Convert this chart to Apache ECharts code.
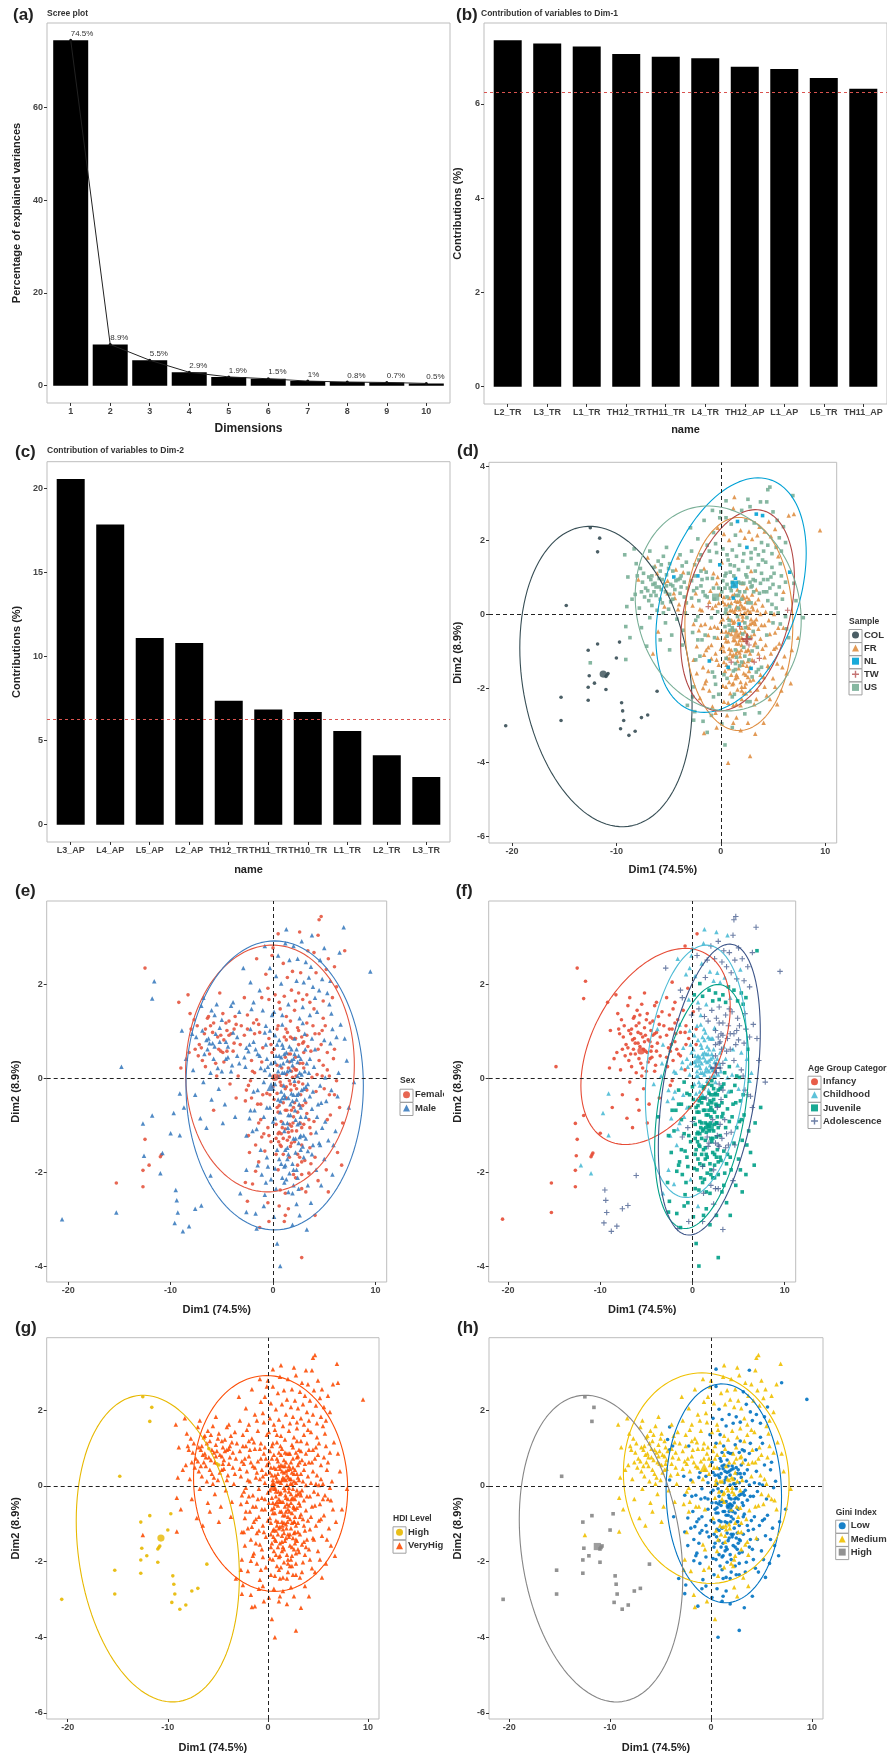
<!DOCTYPE html>
<html>
<head>
<meta charset="utf-8">
<title>PCA figure</title>
<script src="https://cdn.jsdelivr.net/npm/echarts@6.0.0/dist/echarts.min.js"></script>
<style>
  html, body { margin: 0; padding: 0; background: #fff; }
  #page { position: relative; width: 887px; height: 1758px; overflow: hidden; background: #fff; }
  .panel { position: absolute; }
</style>
</head>
<body>
<div id="page"></div>
<script>
var FONT = '"Liberation Sans", Arial, Helvetica, sans-serif';

// (a) scree plot
var screeDims = [1, 2, 3, 4, 5, 6, 7, 8, 9, 10];
var screeVals = [74.5, 8.9, 5.5, 2.9, 1.9, 1.5, 1.0, 0.8, 0.7, 0.5];
var screeLabels = ['74.5%', '8.9%', '5.5%', '2.9%', '1.9%', '1.5%', '1%', '0.8%', '0.7%', '0.5%'];

// (b) and (c) contributions
var dim1Vars = ['L2_TR', 'L3_TR', 'L1_TR', 'TH12_TR', 'TH11_TR', 'L4_TR', 'TH12_AP', 'L1_AP', 'L5_TR', 'TH11_AP'];
var dim1Contrib = [7.35, 7.28, 7.22, 7.06, 7.00, 6.97, 6.79, 6.74, 6.55, 6.32];
var dim2Vars = ['L3_AP', 'L4_AP', 'L5_AP', 'L2_AP', 'TH12_TR', 'TH11_TR', 'TH10_TR', 'L1_TR', 'L2_TR', 'L3_TR'];
var dim2Contrib = [20.54, 17.84, 11.09, 10.80, 7.37, 6.85, 6.70, 5.57, 4.13, 2.84];
var refContrib = 6.25;

// individuals on Dim1 / Dim2 (10 per line)
var indPts = [
  // left outliers
  [-12.5,2.35],[-11.6,2.07],[-11.8,1.70],[-14.8,0.25],[-11.8,-0.79],[-12.7,-0.96],[-9.7,-0.74],[-10.0,-1.17],[-12.5,-1.30],[-9.1,-1.21],
  [-10.9,-1.63],[-10.8,-1.59],[-11.0,-1.67],[-12.6,-1.65],[-12.1,-1.85],[-12.7,-1.96],[-11.0,-2.02],[-12.7,-2.31],[-15.3,-2.23],[-15.3,-2.86],
  [-20.6,-3.00],[-9.5,-2.38],[-9.4,-2.60],[-9.3,-2.86],[-9.6,-3.08],[-8.8,-3.26],[-8.2,-3.15],[-7.6,-2.78],[-7.0,-2.71],[-6.1,-2.07],
  // upper-left band
  [-9.2,1.62],[-8.9,1.02],[-9.0,0.22],[-9.1,-0.32],[-8.7,-0.62],[-8.3,1.78],[-8.1,1.38],[-7.9,0.95],[-8.2,0.55],[-7.8,0.18],
  [-7.6,-0.35],[-7.4,1.12],[-7.2,0.72],[-7.0,1.55],[-6.9,0.38],[-6.8,-0.08],[-7.1,-0.85],[-6.6,1.05],[-6.5,0.82],[-6.3,1.32],
  [-6.2,0.52],[-6.1,0.12],[-6.0,-0.45],[-5.9,0.98],[-5.8,1.18],[-5.7,0.68],[-5.6,0.32],[-5.5,1.58],[-5.4,0.88],[-5.3,-0.22],
  [-5.2,1.08],[-5.1,0.58],[-5.0,0.15],[-4.9,1.38],[-4.8,0.82],[-4.7,-0.55],[-4.6,0.42],[-4.5,1.02],[-4.4,0.68],[-4.3,1.22],
  [-4.2,-0.12],[-4.1,0.95],[-4.0,0.28],[-3.9,1.62],[-3.8,0.75],[-3.7,-0.82],[-3.6,1.15],[-3.5,0.48],[-3.4,0.05],[-3.3,1.42],
  [-6.7,0.95],[-5.9,0.75],[-5.1,0.92],[-4.6,1.18],[-6.4,0.62],[-7.5,0.88],[-5.5,0.05],[-4.4,0.45],[-3.8,1.05],[-6.0,1.45],
  [-8.5,0.42],[-7.7,1.25],[-6.8,1.72],[-5.2,1.82],[-4.1,1.55],[-3.6,-0.42],[-5.8,-0.68],[-6.5,-1.05],[-4.9,-0.95],[-3.2,0.72],
  // centre-left
  [-2.9,2.35],[-2.8,1.72],[-2.8,0.92],[-2.7,0.25],[-2.7,-0.48],[-2.6,-1.22],[-2.6,-1.95],[-2.5,-2.62],[-2.5,1.35],[-2.4,0.58],
  [-2.4,-0.15],[-2.3,-0.85],[-2.3,-1.58],[-2.2,2.05],[-2.2,1.05],[-2.1,0.38],[-2.1,-0.42],[-2.0,-1.12],[-2.0,-2.25],[-1.9,1.62],
  [-1.9,0.78],[-1.8,0.12],[-1.8,-0.68],[-1.7,-1.42],[-1.7,-2.88],[-1.6,2.55],[-1.6,1.25],[-1.5,0.52],[-1.5,-0.25],[-1.4,-0.95],
  [-1.4,-1.78],[-1.3,1.88],[-1.3,0.98],[-1.2,0.22],[-1.2,-0.55],[-1.1,-1.25],[-1.1,-2.05],[-1.0,1.45],[-1.0,0.65],[-0.9,-0.08],
  [-0.9,-0.82],[-0.8,-1.55],[-0.8,-2.48],[-0.7,2.22],[-0.7,1.12],[-0.6,0.42],[-0.6,-0.32],[-0.5,-1.05],[-0.5,-1.88],[-0.4,1.68],
  [-0.4,0.85],[-0.3,0.08],[-0.3,-0.62],[-0.2,-1.35],[-0.2,-2.15],[-0.1,2.62],[-0.1,1.35],[-0.1,0.55],[0.0,-0.18],[0.0,-0.92],
  [-2.6,0.65],[-2.2,-0.05],[-1.9,1.18],[-1.6,-1.08],[-1.3,0.48],[-1.0,-0.35],[-0.7,0.72],[-0.4,-1.22],[-0.2,0.32],[-2.4,-1.22],
  [-1.8,0.95],[-1.5,-1.85],[-1.1,1.72],[-0.8,0.18],[-0.5,-2.65],[-2.1,1.48],[-0.3,1.02],[-1.2,-0.88],[-2.7,-2.22],[-0.6,-1.68],
  // core
  [0.1,1.42],[0.1,0.62],[0.2,-0.12],[0.2,-0.85],[0.3,-1.62],[0.3,-2.35],[0.4,1.05],[0.4,0.28],[0.5,-0.45],[0.5,-1.18],
  [0.5,-1.95],[0.6,0.82],[0.6,0.05],[0.7,-0.72],[0.7,-1.42],[0.7,1.48],[0.8,0.45],[0.8,-0.28],[0.9,-1.05],[0.9,-2.12],
  [0.9,1.15],[1.0,0.32],[1.0,-0.52],[1.0,-1.28],[1.1,-1.88],[1.1,0.88],[1.1,0.12],[1.2,-0.68],[1.2,-1.52],[1.2,-2.45],
  [1.3,1.32],[1.3,0.55],[1.3,-0.18],[1.4,-0.95],[1.4,-1.72],[1.4,0.98],[1.5,0.22],[1.5,-0.42],[1.5,-1.15],[1.6,-2.02],
  [1.6,0.68],[1.6,-0.05],[1.7,-0.78],[1.7,-1.45],[1.7,1.22],[1.8,0.38],[1.8,-0.32],[1.8,-1.02],[1.9,-1.82],[1.9,0.85],
  [1.9,0.02],[2.0,-0.62],[2.0,-1.28],[2.0,-2.28],[2.1,1.45],[2.1,0.52],[2.1,-0.15],[2.2,-0.88],[2.2,-1.58],[2.2,0.18],
  [2.3,-0.45],[2.3,-1.12],[2.3,-1.95],[2.4,1.08],[2.4,0.35],[2.4,-0.72],[2.5,-1.38],[2.5,0.72],[2.5,-0.08],[2.6,-0.95],
  [2.6,-1.68],[2.6,1.28],[2.7,0.42],[2.7,-0.35],[2.7,-1.22],[2.8,-2.05],[2.8,0.88],[2.8,0.08],[2.9,-0.58],[2.9,-1.45],
  [2.9,1.52],[3.0,0.55],[3.0,-0.22],[3.0,-0.98],[3.1,-1.75],[3.1,0.95],[3.1,0.15],[3.2,-0.52],[3.2,-1.28],[3.2,-2.42],
  [3.3,1.18],[3.3,0.32],[3.3,-0.75],[3.4,-1.55],[3.4,0.68],[3.4,-0.12],[3.5,-0.88],[3.5,-2.02],[3.6,1.35],[3.6,0.42],
  [3.6,-0.38],[3.7,-1.18],[3.7,-1.82],[3.8,0.85],[3.8,0.02],[3.8,-0.65],[3.9,-1.42],[3.9,1.12],[4.0,0.25],[4.0,-0.92],
  [4.1,-1.68],[4.1,0.62],[4.2,-0.28],[4.2,-1.15],[4.3,1.42],[4.3,0.08],[4.4,-0.55],[4.4,-2.18],[4.5,0.95],[4.5,-1.38],
  [0.3,0.48],[0.6,-0.58],[0.9,0.12],[1.2,0.45],[1.5,-0.78],[1.8,0.15],[2.1,-0.52],[2.4,0.05],[2.7,-0.82],[3.0,0.22],
  [0.4,-0.32],[0.7,0.28],[1.0,-0.95],[1.3,-0.42],[1.6,0.35],[1.9,-0.48],[2.2,0.85],[2.5,-0.32],[2.8,-1.05],[3.1,-0.45],
  [0.2,0.92],[0.5,-0.72],[0.8,-1.45],[1.1,-0.35],[1.4,0.15],[1.7,-0.12],[2.0,0.42],[2.3,0.18],[2.6,0.12],[2.9,0.32],
  [0.6,-1.15],[0.9,-0.42],[1.2,-1.08],[1.5,-1.62],[1.8,-1.38],[2.1,-0.05],[2.4,-1.62],[2.7,-0.62],[3.0,-1.22],[3.3,-0.25],
  [0.4,0.72],[0.8,-0.15],[1.1,0.52],[1.4,-1.32],[1.7,0.88],[2.0,-0.35],[2.3,0.62],[2.6,-0.58],[2.9,0.75],[3.2,-0.18],
  [0.3,-1.28],[0.8,-1.82],[1.3,-2.15],[1.6,-1.25],[1.9,-2.45],[2.2,-2.12],[2.5,-2.35],[2.8,-1.78],[3.4,-2.28],[3.6,-1.48],
  // upper
  [-0.8,2.82],[-0.5,1.92],[-0.3,2.35],[0.0,2.78],[0.2,1.78],[0.3,2.18],[0.5,2.62],[0.6,1.62],[0.8,2.02],[1.0,2.45],
  [1.1,1.75],[1.2,2.88],[1.4,2.15],[1.5,1.58],[1.6,2.52],[1.8,1.88],[1.9,2.28],[2.0,2.82],[2.2,1.65],[2.3,2.08],
  [2.4,2.55],[2.5,1.82],[2.7,2.25],[2.8,2.92],[2.9,1.68],[3.0,2.05],[3.2,2.48],[3.3,1.78],[3.4,2.72],[3.5,2.15],
  [3.6,1.62],[3.7,2.38],[3.9,1.95],[4.0,2.68],[4.1,1.72],[4.2,2.25],[4.4,3.05],[4.5,1.88],[4.6,2.52],[4.7,3.45],
  [4.8,2.12],[4.9,1.65],[5.0,2.78],[5.2,2.32],[5.3,1.82],[5.4,2.55],[5.5,1.58],[5.6,2.08],[5.8,1.72],[6.0,2.38],
  [6.2,1.95],[6.5,2.68],[6.9,3.22],[7.0,2.72],[9.5,2.28],[4.5,3.38],[3.8,3.05],[2.6,3.12],[1.3,3.18],[0.5,3.08],
  // right
  [4.6,-0.15],[4.7,0.72],[4.8,-1.05],[4.9,0.28],[5.0,-1.72],[5.1,1.12],[5.2,-0.48],[5.3,0.55],[5.4,-1.32],[5.5,0.05],
  [5.6,-0.78],[5.7,1.38],[5.8,-2.05],[5.9,0.42],[6.0,-0.35],[6.1,-1.12],[6.2,0.88],[6.3,-1.58],[6.4,0.12],[6.5,-0.62],
  [4.7,-2.28],[5.0,-0.22],[5.3,-0.88],[5.6,0.75],[5.9,-1.42],[6.2,-0.05],[6.6,1.15],[6.8,-0.95],[7.2,0.38],[7.9,-0.08],
  [4.8,1.02],[5.1,0.02],[5.4,-2.42],[5.7,-0.25],[6.0,0.62],[6.3,-0.38],[6.7,-1.85],[7.0,0.85],[7.4,-0.62],[5.2,-1.95],
  // lower stragglers
  [-2.6,-2.85],[-1.6,-3.20],[-1.3,-3.18],[-0.9,-2.72],[-0.4,-3.05],[0.1,-2.95],[0.4,-3.52],[0.6,-2.72],[0.7,-4.00],[1.1,-3.05],
  [1.5,-2.78],[1.9,-3.12],[2.3,-2.68],[2.8,-3.82],[3.3,-3.22],[3.7,-2.65],[4.1,-2.92],[-3.2,-2.45],[1.2,-2.92],[2.6,-2.92],
  // band, second pass
  [-7.3,0.48],[-6.9,1.02],[-6.6,0.25],[-6.3,0.85],[-6.1,1.12],[-5.8,0.42],[-5.6,0.95],[-5.3,0.62],[-5.0,1.25],[-4.8,0.35],
  [-4.6,0.78],[-4.3,0.92],[-4.1,0.15],[-3.9,0.58],[-3.7,1.32],[-3.5,0.88],[-3.3,0.32],[-7.0,0.65],[-6.4,1.28],[-5.4,0.22],
  [-8.0,1.05],[-7.6,0.62],[-6.7,0.52],[-5.2,0.78],[-4.5,0.58],[-3.9,0.98],[-4.9,0.55],[-6.2,0.75],[-5.7,1.35],[-3.1,1.12],
  // centre-left, second pass
  [-2.8,0.45],[-2.5,1.05],[-2.3,0.72],[-2.0,0.15],[-1.7,0.62],[-1.4,1.15],[-1.1,0.35],[-0.8,0.98],[-0.5,0.25],[-0.2,0.72],
  [-2.6,-0.25],[-2.2,-0.68],[-1.9,-0.28],[-1.5,-0.55],[-1.2,-1.52],[-0.9,-1.18],[-0.6,-0.62],[-0.3,-0.35],[-1.7,-1.98],[-0.7,-2.22],
  // core, second pass
  [0.2,0.35],[0.4,-0.62],[0.6,0.48],[0.8,-0.92],[1.0,0.65],[1.2,-0.22],[1.4,0.38],[1.6,-0.98],[1.8,0.62],[2.0,-0.82],
  [2.2,0.45],[2.4,-0.98],[2.6,0.32],[2.8,-0.25],[3.0,0.78],[3.2,-0.82],[0.3,-0.98],[0.5,0.15],[0.7,-0.08],[0.9,0.72],
  [1.1,-1.12],[1.3,0.08],[1.5,0.52],[1.7,-0.55],[1.9,0.28],[2.1,-1.35],[2.3,-0.22],[2.5,0.48],[2.7,-1.52],[2.9,-0.12],
  [0.1,-0.45],[0.4,-1.52],[0.6,-1.72],[0.8,-1.18],[1.0,-1.62],[1.2,-1.85],[1.4,-1.48],[1.6,-1.68],[1.8,-0.68],[2.0,-1.95],
  [2.2,-1.28],[2.4,-1.85],[2.6,-1.25],[2.8,-1.42],[3.0,-1.68],[0.5,1.12],[0.9,1.35],[1.3,0.82],[1.7,0.52],[2.1,0.85],
  [2.5,1.02],[2.9,1.18],[3.3,0.92],[0.2,-1.92],[0.7,-2.38],[1.1,-2.22],[1.5,-2.42],[2.0,-2.05],[2.4,-2.12],[2.8,-2.35],
  [1.05,-0.15],[1.35,-0.68],[1.65,0.18],[1.95,-0.95],[2.25,0.05],[2.55,-0.55],[0.85,0.22],[1.15,-0.42],[1.45,-1.05],[1.75,-0.25],
  [2.05,0.22],[2.35,-0.35],[2.65,-0.95],[0.45,0.05],[0.75,-0.48],[1.25,1.05],[1.85,-1.12],[2.15,-0.68],[0.55,-1.35],[3.15,0.62],
  // right-middle, second pass
  [3.5,0.12],[3.7,0.58],[3.9,-0.28],[4.1,0.95],[4.3,-0.82],[4.5,0.38],[4.7,-0.52],[4.9,1.28],[5.1,-0.92],[5.3,0.18],
  [3.6,-1.05],[3.8,-1.62],[4.0,1.48],[4.2,-1.95],[4.4,0.62],[4.6,-1.42],[4.8,0.05],[5.0,0.82],[5.5,-0.35],[5.8,1.05]
];

// group of each individual, one letter per point, blocks of 10
var sampleCode = (
  'CCCCCCCCUU CCCCCCCCCC CCCCCCCCCC ' +
  'UUUUUUUFUU UUUFUUUUUF UUFUUUUUFU UFUUUUUNUF UUFUUUFUUU UUFUUUUFUU UUUUFUUFUU ' +
  'UUUFUFUUUF UFFUNUFUFU UFUFUUFUFF FUUTFNFUFU FUFUFUFFUU FUFFUUNFFF UUUFUFUFFU UFUFFUFFUU ' +
  'FUFFUFUFFU FUFFNUFUFF UFFTFUFFUF UFFUFNFFUF FUFFUFTFFU FFUFUFFUFF FUFUFTFFUF FUFFUFUFFN UFFUFUFFTF ' +
  'UFFUFFUFUF FTFUFFUUFF FUFFUFUFUF FUFNFFUFTF UFFUFFUFFU UFFUFFUFFU FUFFUFFUFF UUFUUFUFUF FFUFFFUFFU ' +
  'UUFUUFUUFU UFUUNUFUUF UNFUUFUUNF UFUNUFUUFU FUUFUUFUUU UFUFFUUUFU ' +
  'FUFUFUFUFU FUFUFFUFTU FUFUFUNFUU UFFUFUFUFF ' +
  'UFUUFUUFFU FFUFFUFUFF ' +
  'UUUUFUUUUU UUFUUUUUUF UUUUFUUUUU ' +
  'UUUFUUFUFU FUFUFFUFFU ' +
  'FFUFUFFFUF FFUFUFFUFU FFUFFFUFFF FFUFFFUFFF FFFFUUUFUF UFUFFUFFFU FFUFFFUFFN FUFUFUFFFU ' +
  'FUFUFUFUFU FFUFUFUUFU').replace(/ /g, '');
var sexCode = (
  'FMMMMMMMFM FMFMFFMFFM MMMMMMMMMM ' +
  'FMFMMFFMFM MFFMFMMFMF FMMFFMFMFM MFMFFMMFMF FFMMFMFMFM FMFFMMFMFM MFMFMFFMMF ' +
  'MFFMFMMFFM FMFMMFFMFM MFMFMFFMMF FMFMFFMMFM MFMFMMFFMF FMMFMFMFFM MFFMMFMFMF FMFMFMMFFM ' +
  'MFMMFMFFMF FMFMFFMMFM MMFFMFMFMF FMFMMFFMFM MFMFFMMFMF FFMMFMFMMF MFMFMFMFFM FMMFMFFMFM MFMFFMMFMF ' +
  'FMFMFMFFMM MFFMFMMFMF FMFMMFMFFM MFMFMFFMMF FMMFFMFMFM MFFMMFMFMF FMFMFMFMMF MFMFFMMFFM FMMFMFMFMF ' +
  'MFMFFMMFMF FMFMMFFMFM MFFMFMMFFM FMMFMFFMMF MFMFMFMMFF FMMFMFMFMF ' +
  'MFMFMFMFMF FMMFFMMFMF MFFMMFMFMM FMFMFMFMMF ' +
  'MMFMFMMFMF FMMFMMFMFM ' +
  'FMFMFMMFMF MFMFFMMFFM FFMMFMFMMF ' +
  'MFMFMFFMMF FMMFMFMFFM ' +
  'MFMFMFMFMF FMFMFMFMFM MFFMMFFMMF FMMFFMMFFM MFMFMFMFFM FMFMFMMFMF MFMFFMFMMF FMFMMFFMFM ' +
  'MFMFMFMFMF FMFMFMFMFM').replace(/ /g, '');
var ageCode = (
  'IIIIIICIIC IIIICICIII IAAAAAAAAA ' +
  'IIICIIIIII IIIIIIIIII IIIIIIIIII IIIIIIIIII CIIIIJIICI IIIIIIIICI IIIIIIIIIC ' +
  'AIIICJCJII ICJIIICJCI ICJCJCIIJC JAICJAJICJ CJJCICJAJC ICJJCCACJA IIICICIJCC IJAIJICJJJ ' +
  'ICCJJJICCJ JCCJJACCJJ CCJJACCJJA ACJJJCCAJJ CCJAACJJJC CJJAACJAJC JJACCJAACJ JACJAJACJA ACJAJACJAJ ' +
  'AAJJCJAJAC JAJACJAAJJ JAJAACJAAJ CJCCJCJCJA CCJJCJCJJA CJJCCJCCAC JJJJAJJAJA ICCJCJCJAJ JJJAJJAJJA ' +
  'IICCJCACJC JCACAJCAJC AJCAJCAJAC JAJACAAJAA AJACJAJAJA AAAJAACCCI ' +
  'JAJCJAJCJA JAJCAJAJCA JCJAJCAJAA AJJAJAJAJJ ' +
  'JAJJAJJCJA JJAJAJJCJJ ' +
  'IIIIIIIIII IIIIIICIII IIIIIIIIII ' +
  'IIICICCICC CJCJJJCJJJ ' +
  'CJCJCJCJCJ CJCJAJJCCC JCCJCJJAJA JJJJJJJJJJ JJJAJCCCCC AAAJJJJJJA CJCJCJCJJC CJJCJCJJJA ' +
  'JACAJAJAJA JJAJCAJAJA').replace(/ /g, '');
var hdiCode = (
  'HHHHHHHHVV HHHHHHHHHH HHHHHHHHHH ' +
  'VVVVVVVVVV VVVVVVVVVV VVVHVVVVVV VHVVVVVVVV VVVVVVVVVV VVVVVVVVVV VVVVVVVVVV ' +
  'VVVVVVVVVV VVVVVVVVVV VVVVVVVVVV VVVVVVVVVV VVVVVVVVVV VVVVVVVVVV VVVVVVVVVV VVVVVVVVVV ' +
  'VVVVVVVVVV VVVVVVVVVV VVVVVVVVVV VVVVVVVVVV VVVVVVVVVV VVVVVVVVVV VVVVVVVVVV VVVVVVVVVV VVVVVVVVVV ' +
  'VVVVVVVVVV VVVVVVVVVV VVVVVVVVVV VVVVVVVVVV VVVVVVVVVV VVVVVVVVVV VVVVVVVVVV VVVVVVVVVV VVVVVVVVVV ' +
  'VVVVVVVVVV VVVVVVVVVV VVVVVVVVVV VVVVVVVVVV VVVVVVVVVV VVVVVVVVVV ' +
  'VVVVVVVVVV VVVVVVVVVV VVVVVVVVVV VVVVVVVVVV ' +
  'VVVVVVVVVV VVVVVVVVVV ' +
  'VVVVVVVVVV VVVVVVVVVV VVVVVVHVVV ' +
  'VVVVVVVVVV VVVVVVVVVV ' +
  'VVVVVVVVVV VVVVVVVVVV VVVVVVVVVV VVVVVVVVVV VVVVVVVVVV VVVVVVVVVV VVVVVVVVVV VVVVVVVVVV ' +
  'VVVVVVVVVV VVVVVVVVVV').replace(/ /g, '');
var giniCode = (
  'HHHHHHHHMM HHHHHHHHHH HHHHHHHHHH ' +
  'MMMMMMMMMM MMMMMMMMMM MMMMMMMMMM MMMMMMMMML MLMMMLMMMM MMMMMMMMLM MMMMLMMMMM ' +
  'MMMLMLMLMM MLLMLMMLMM MMLLMMMMLL LMMLMLLMML LMLMMMLLLM MLLLMMLMLL MMMLMLMLMM MLMMLMMLMM ' +
  'MLLMLLMLLM LMLLMMLLML MLLMLLMLLL MLMLLMLLML LMLLMLLMLL LMLLMLMLLM LLMLMLLMLL LMLLMLLLML MLLMLLMLLM ' +
  'MLLMLLMLML LLMLLMLLML LMLLMLMLLM MLMLLMLLML MLLMLLMLLL MLLMLMLLML LLMLLMLLML MMLMLLMLML LLMLLMLLLM ' +
  'MMMMLMLMLM LMMLMLMMLM MLMMLMLMML MMLMLMMLMM MLMMLMMLMM MMMLLMLMML ' +
  'LMLMLLMLLM LMLLMLMLLM LMLMLLMLMM MLLMLMLMLL ' +
  'LMLLMLMLLL LLMLLMLLLM ' +
  'MMMMMMMMMM MMLMMMMMMM MMMMMMMMMM ' +
  'MMMLMMLMLM LMLMLLMLLM ' +
  'LLMLLMLLML LMLLMLLMLL LLMLLLMLLM LLMLLLMLLL LMLLMLLMLL MLLLMLLMLL LLMLLMLLML MLLMLLMLLM ' +
  'LMLMLLMLLM LLMLMLLMLM').replace(/ /g, '');

// groups, colours and confidence ellipses [cx, cy, half-width, half-height, tilt]
var sampleNames = ['COL', 'FR', 'NL', 'TW', 'US'];
var sampleColors = ['#374E55', '#DF8F44', '#00A1D5', '#B24745', '#79AF97'];
var sampleEllipses = [[-11.0, -1.67, 8.25, 4.06, -0.19], [1.73, -0.25, 5.17, 2.88, 0.0], [0.98, 0.53, 7.2, 3.17, 0.36], [1.6, 0.12, 5.45, 2.72, 0.32], [-0.25, 0.17, 7.95, 2.77, -0.12]];
var sexNames = ['Female', 'Male'];
var sexColors = ['#E4553F', '#3D7DBF'];
var sexEllipses = [[-0.3, 0.21, 8.24, 2.63, 0.03], [0.16, -0.15, 8.66, 3.08, 0.0]];
var ageNames = ['Infancy', 'Childhood', 'Juvenile', 'Adolescence'];
var ageColors = ['#E64B35', '#4DBBD5', '#00A087', '#3C5488'];
var ageEllipses = [[-4.0, 0.68, 8.1, 2.09, 0.4], [0.39, 0.15, 5.5, 2.69, 0.2], [1.0, -0.6, 5.1, 2.6, 0.35], [1.83, -0.24, 5.53, 3.1, 0.4]];
var hdiNames = ['High', 'VeryHigh'];
var hdiColors = ['#E7B800', '#FC4E07'];
var hdiEllipses = [[-11.0, -1.66, 8.15, 4.05, -0.18], [0.27, 0.06, 7.7, 2.85, -0.05]];
var giniNames = ['Low', 'Medium', 'High'];
var giniColors = ['#0073C2', '#EFC000', '#868686'];
var giniEllipses = [[1.27, -0.2, 5.72, 2.89, -0.03], [-0.47, 0.2, 8.21, 2.78, -0.05], [-10.9, -1.66, 8.1, 4.05, -0.19]];

var PLUS = 'path://M4,0H6V4H10V6H6V10H4V6H0V4H4Z';

function makePanel(left, top, w, h) {
  var d = document.createElement('div');
  d.className = 'panel';
  d.style.left = left + 'px';
  d.style.top = top + 'px';
  d.style.width = w + 'px';
  d.style.height = h + 'px';
  document.getElementById('page').appendChild(d);
  return echarts.init(d, null, { renderer: 'canvas' });
}

function valAxis(min, max, ticks, name, gap, fmt, nameSize) {
  return {
    type: 'value', min: min, max: max,
    name: name, nameLocation: 'middle', nameGap: gap,
    nameTextStyle: { fontFamily: FONT, fontSize: nameSize || 11, fontWeight: 'bold', color: '#222' },
    axisLine: { show: false, onZero: false },
    splitLine: { show: false },
    axisTick: { show: true, length: 3, customValues: ticks, lineStyle: { color: '#333' } },
    axisLabel: { customValues: ticks, formatter: fmt, margin: 4, fontFamily: FONT, fontSize: 9, fontWeight: 'bold', color: '#444' }
  };
}

function gridBox(l, t, w, h) {
  return { left: l, top: t, width: w, height: h, show: true, borderColor: '#bdbdbd', borderWidth: 1, backgroundColor: 'transparent' };
}

function txt(x, y, s, size, bold, color) {
  return { type: 'text', x: x, y: y, silent: true, z: 10,
    style: { text: s, fontFamily: FONT, fontSize: size, fontWeight: bold ? 'bold' : 'normal', fill: color || '#333', verticalAlign: 'middle', align: 'left' } };
}

function ellipseLine(e) {
  var out = [];
  var s = Math.sqrt(1 - e[4] * e[4]);
  for (var k = 0; k <= 120; k++) {
    var t = 2 * Math.PI * k / 120;
    out.push([e[0] + e[2] * Math.cos(t), e[1] + e[3] * (e[4] * Math.cos(t) + s * Math.sin(t))]);
  }
  return out;
}

// (a)
var chartA = makePanel(0, 0, 456, 440);
chartA.setOption({
  animation: false,
  grid: gridBox(47, 23, 403, 392),
  xAxis: valAxis(0.4, 10.6, screeDims, 'Dimensions', 20, null, 12),
  yAxis: valAxis(-3.725, 78.225, [0, 20, 40, 60], 'Percentage of explained variances', 25),
  graphic: [txt(13, 15, '(a)', 17, true, '#222'), txt(47, 14, 'Scree plot', 8.5, true)],
  series: [
    { type: 'bar', barWidth: 35, data: screeDims.map(function (d, i) { return [d, screeVals[i]]; }),
      itemStyle: { color: '#000' }, silent: true },
    { type: 'line', data: screeDims.map(function (d, i) { return [d, screeVals[i]]; }),
      symbol: 'circle', symbolSize: 3, itemStyle: { color: '#111' }, lineStyle: { color: '#222', width: 1 }, z: 5,
      label: { show: true, position: 'top', align: 'left', distance: 1, fontFamily: FONT, fontSize: 8, color: '#333',
        formatter: function (p) { return screeLabels[p.dataIndex]; } } }
  ]
});

// (b) and (c)
function contribOption(names, vals, grid, yMin, yMax, yTicks, title, label, labelY, yGap, xGap) {
  return {
    animation: false,
    grid: grid,
    xAxis: valAxis(-0.6, names.length - 0.4, names.map(function (n, i) { return i; }), 'name', xGap,
      function (v) { return names[Math.round(v)]; }),
    yAxis: valAxis(yMin, yMax, yTicks, 'Contributions (%)', yGap),
    graphic: [txt(label[0], labelY, label[1], 17, true, '#222'), txt(grid.left, labelY - 1, title, 8.5, true)],
    series: [{
      type: 'bar', barWidth: 28, data: names.map(function (n, i) { return [i, vals[i]]; }),
      itemStyle: { color: '#000' }, silent: true,
      markLine: { silent: true, symbol: ['none', 'none'], label: { show: false },
        lineStyle: { color: '#d9534f', type: [3, 3], width: 1 }, data: [{ yAxis: refContrib }] }
    }]
  };
}
var chartB = makePanel(444, 0, 443, 440);
chartB.setOption(contribOption(dim1Vars, dim1Contrib, gridBox(37, 23, 409, 392), -0.3675, 7.7175, [0, 2, 4, 6],
  'Contribution of variables to Dim-1', [12, '(b)'], 15, 21, 20));
var chartC = makePanel(0, 440, 456, 440);
chartC.setOption(contribOption(dim2Vars, dim2Contrib, gridBox(47, 21.7, 403, 389), -1.027, 21.567, [0, 5, 10, 15, 20],
  'Contribution of variables to Dim-2', [15, '(c)'], 12, 22, 22));

// scatter panels
function scatterPanel(chart, o) {
  var series = [], legends = [], graphics = [];
  graphics.push(txt(o.tag[0], o.tag[1], o.tag[2], 17, true, '#222'));
  graphics.push(txt(o.legX, o.legTitleY, o.legTitle, 8.5, true));
  o.names.forEach(function (nm, gi) {
    var key = o.keys.charAt(gi);
    var pts = indPts.filter(function (p, i) { return o.code.charAt(i) === key; });
    var sym = o.shapes[gi];
    var size = sym === 'triangle' ? 4.5 : (sym === PLUS ? 5.5 : 3.6);
    series.push({ name: nm, type: 'scatter', data: pts, symbol: sym, symbolSize: size, z: 2,
      itemStyle: { color: o.colors[gi], opacity: sym === PLUS ? 0.75 : 0.9 }, silent: true });
    if (pts.length) {
      var mx = 0, my = 0;
      pts.forEach(function (p) { mx += p[0]; my += p[1]; });
      series.push({ name: nm + ' mean', type: 'scatter', data: [[mx / pts.length, my / pts.length]], symbol: sym,
        symbolSize: size * 2, z: 3, itemStyle: { color: o.colors[gi] }, silent: true });
    }
    series.push({ name: nm + ' ellipse', type: 'line', data: ellipseLine(o.ellipses[gi]), symbol: 'none', z: 4,
      lineStyle: { color: o.colors[gi], width: 1.1 }, silent: true });
    var cy = o.keyY0 + gi * o.keyDy;
    legends.push({ data: [{ name: nm, icon: sym }], left: o.legX + 3, top: cy - 6, orient: 'vertical', padding: 0,
      itemWidth: 7, itemHeight: 7, selectedMode: false,
      textStyle: { fontFamily: FONT, fontSize: 9.5, fontWeight: 'bold', color: '#333' } });
    graphics.push({ type: 'rect', silent: true, shape: { x: o.legX, y: cy - 6.5, width: 13, height: 13 },
      style: { fill: 'none', stroke: '#a0a0a0', lineWidth: 1 } });
  });
  series.push({ type: 'line', data: [], z: 5, silent: true,
    markLine: { silent: true, symbol: ['none', 'none'], label: { show: false }, animation: false,
      lineStyle: { color: '#222', type: [4, 3], width: 1 }, data: [{ xAxis: 0 }, { yAxis: 0 }] } });
  chart.setOption({
    animation: false,
    grid: o.grid,
    xAxis: valAxis(o.x[0], o.x[1], [-20, -10, 0, 10], 'Dim1 (74.5%)', o.xGap),
    yAxis: valAxis(o.y[0], o.y[1], o.yTicks, 'Dim2 (8.9%)', o.yGap),
    legend: legends,
    graphic: graphics,
    series: series
  });
}

scatterPanel(makePanel(444, 440, 443, 440), {
  grid: gridBox(42.7, 22.3, 350, 389.4), x: [-22.2, 11.1], y: [-6.17, 4.12], yTicks: [-6, -4, -2, 0, 2, 4],
  xGap: 21, yGap: 26, tag: [13, 11.7, '(d)'],
  names: sampleNames, keys: 'CFNTU', code: sampleCode, colors: sampleColors, ellipses: sampleEllipses,
  shapes: ['circle', 'triangle', 'rect', PLUS, 'rect'],
  legTitle: 'Sample', legX: 405, legTitleY: 181.7, keyY0: 196, keyDy: 13.1
});
scatterPanel(makePanel(0, 880, 444, 440), {
  grid: gridBox(46.7, 21, 340, 389.7), x: [-22.1, 11.1], y: [-4.34, 3.78], yTicks: [-4, -2, 0, 2],
  xGap: 22, yGap: 25, tag: [15, 11.7, '(e)'],
  names: sexNames, keys: 'FM', code: sexCode, colors: sexColors, ellipses: sexEllipses,
  shapes: ['circle', 'triangle'],
  legTitle: 'Sex', legX: 400, legTitleY: 200.7, keyY0: 215.7, keyDy: 13.3
});
scatterPanel(makePanel(444, 880, 443, 440), {
  grid: gridBox(41.7, 21, 310, 389.7), x: [-22.1, 11.2], y: [-4.34, 3.78], yTicks: [-4, -2, 0, 2],
  xGap: 22, yGap: 25.7, tag: [11.7, 11, '(f)'],
  names: ageNames, keys: 'ICJA', code: ageCode, colors: ageColors, ellipses: ageEllipses,
  shapes: ['circle', 'triangle', 'rect', PLUS],
  legTitle: 'Age Group Category', legX: 364, legTitleY: 189, keyY0: 202.7, keyDy: 13.1
});
scatterPanel(makePanel(0, 1320, 444, 438), {
  grid: gridBox(46.7, 17.7, 332.3, 389), x: [-22.1, 11.1], y: [-6.16, 3.91], yTicks: [-6, -4, -2, 0, 2],
  xGap: 23, yGap: 25, tag: [15, 8, '(g)'],
  names: hdiNames, keys: 'HV', code: hdiCode, colors: hdiColors, ellipses: hdiEllipses,
  shapes: ['circle', 'triangle'],
  legTitle: 'HDI Level', legX: 393, legTitleY: 199, keyY0: 213.3, keyDy: 13.4
});
scatterPanel(makePanel(444, 1320, 443, 438), {
  grid: gridBox(42.7, 17.7, 336.3, 389), x: [-22.0, 11.1], y: [-6.16, 3.91], yTicks: [-6, -4, -2, 0, 2],
  xGap: 23, yGap: 26, tag: [13, 8, '(h)'],
  names: giniNames, keys: 'LMH', code: giniCode, colors: giniColors, ellipses: giniEllipses,
  shapes: ['circle', 'triangle', 'rect'],
  legTitle: 'Gini Index', legX: 391.7, legTitleY: 192.7, keyY0: 206.7, keyDy: 13.2
});

if (sampleCode.length !== indPts.length || ageCode.length !== indPts.length || giniCode.length !== indPts.length ||
    sexCode.length !== indPts.length || hdiCode.length !== indPts.length) {
  console.warn('code length mismatch', indPts.length, sampleCode.length, sexCode.length, ageCode.length, hdiCode.length, giniCode.length);
}
</script>
</body>
</html>
